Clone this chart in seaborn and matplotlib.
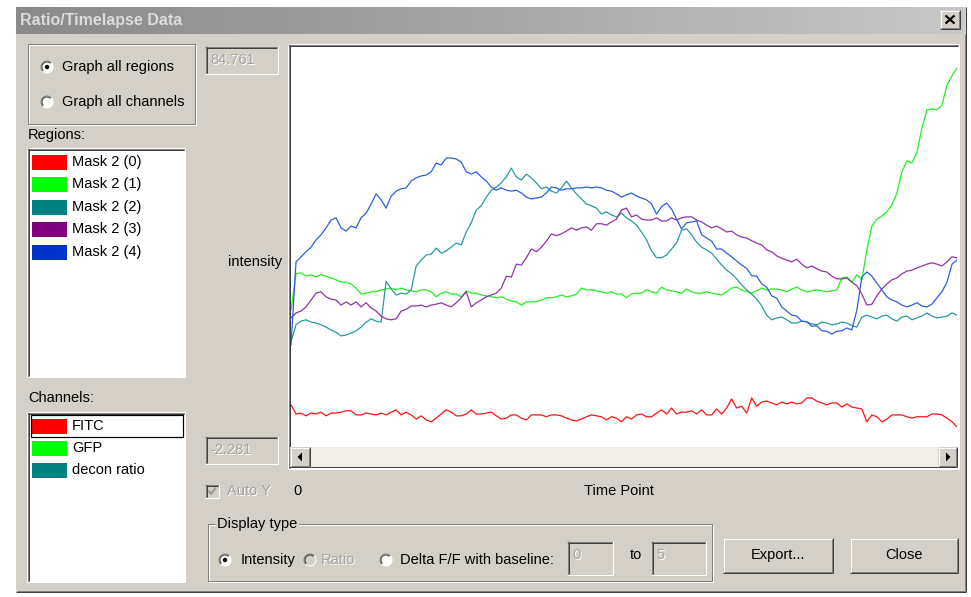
import matplotlib
matplotlib.use("Agg")
import matplotlib.pyplot as plt
from matplotlib.patches import Rectangle, Circle, Polygon, Arc
from matplotlib.colors import LinearSegmentedColormap
import numpy as np
import pandas as pd
import seaborn as sns

# ---------------------------------------------------------------- data
regions = ["Mask 2 (0)", "Mask 2 (1)", "Mask 2 (2)", "Mask 2 (3)", "Mask 2 (4)"]
region_swatch = ["#ff0000", "#00ff00", "#008080", "#800080", "#0033c8"]
region_line = ["#ff1414", "#22f022", "#2a9a9a", "#9432aa", "#2c5ee0"]

channels = ["FITC", "GFP", "decon ratio"]
channel_swatch = ["#ff0000", "#00ff00", "#008080"]

y_max_text = "84.761"
y_min_text = "-2.281"
y_limits = (-2.281, 84.761)

mask2_0 = [6.9, 4.9, 5.1, 4.5, 5.1, 4.9, 5.3, 4.5, 5.1, 5.1,
           5.3, 5.6, 5.6, 4.7, 4.7, 5.1, 4.9, 4.7, 5.1, 4.7,
           5.3, 5.8, 4.7, 5.3, 4.7, 3.8, 4.5, 3.6, 3.2, 4.0,
           4.9, 5.8, 5.3, 4.5, 4.5, 4.9, 5.8, 4.9, 4.9, 5.1,
           5.3, 4.5, 3.8, 4.0, 4.7, 4.7, 4.0, 3.6, 4.7, 4.7,
           4.7, 4.3, 4.7, 4.7, 4.5, 4.0, 3.6, 3.4, 3.8, 4.3,
           4.7, 4.5, 4.3, 3.6, 4.3, 4.0, 3.2, 4.3, 3.8, 4.7,
           4.9, 4.3, 4.3, 5.1, 5.8, 4.9, 6.2, 4.9, 5.3, 5.3,
           5.6, 4.9, 5.8, 4.7, 4.7, 6.0, 4.9, 6.2, 8.2, 6.2,
           6.6, 5.1, 8.4, 6.6, 7.5, 7.7, 7.3, 6.9, 7.5, 7.1,
           7.5, 7.1, 7.3, 8.4, 8.4, 7.7, 7.3, 6.9, 7.3, 7.3,
           6.4, 7.1, 6.4, 6.2, 6.0, 3.2, 4.7, 4.3, 3.2, 3.8,
           4.7, 4.7, 4.7, 4.3, 4.0, 4.3, 4.3, 4.3, 4.9, 4.9,
           4.7, 4.0, 3.2, 2.1]

mask2_1 = [27.5, 35.4, 35.6, 34.9, 35.2, 34.7, 35.2, 34.9, 34.5, 34.1,
           33.6, 33.6, 33.2, 32.3, 31.0, 31.2, 31.5, 31.5, 31.9, 32.1,
           32.3, 31.9, 32.3, 31.9, 31.7, 31.5, 31.9, 31.9, 31.5, 30.4,
           31.2, 31.5, 31.0, 31.0, 30.4, 31.7, 31.2, 31.2, 30.8, 30.6,
           30.4, 30.2, 30.4, 29.9, 29.5, 29.3, 28.6, 29.3, 29.3, 29.3,
           29.7, 30.2, 30.2, 30.4, 30.8, 30.4, 30.6, 31.0, 32.3, 31.9,
           31.9, 31.7, 31.5, 31.2, 31.5, 31.0, 31.0, 30.2, 31.0, 31.2,
           31.2, 31.9, 31.5, 31.2, 32.5, 31.9, 31.7, 31.5, 31.2, 32.1,
           31.5, 31.2, 31.2, 31.5, 31.2, 31.0, 30.8, 31.5, 32.3, 32.5,
           31.9, 31.5, 31.2, 31.7, 32.3, 31.9, 32.1, 32.1, 31.9, 31.5,
           32.1, 32.5, 31.9, 31.5, 31.7, 31.9, 31.7, 31.5, 31.7, 31.9,
           34.5, 34.7, 33.6, 35.2, 34.1, 40.6, 45.8, 47.3, 48.0, 48.9,
           50.4, 53.0, 57.6, 60.0, 59.5, 61.9, 67.1, 71.1, 71.3, 71.1,
           72.1, 76.5, 78.5, 80.2]

mask2_2 = [20.6, 24.3, 25.1, 25.4, 24.9, 24.7, 24.3, 23.8, 23.2, 22.7,
           21.9, 22.1, 22.5, 23.0, 23.8, 24.9, 25.6, 25.1, 24.9, 33.8,
           32.1, 30.8, 31.2, 31.0, 31.9, 37.1, 38.4, 39.5, 39.7, 41.0,
           39.9, 40.4, 41.2, 42.1, 41.7, 44.5, 46.5, 49.3, 50.2, 52.1,
           53.6, 54.3, 55.2, 56.5, 58.4, 56.5, 55.8, 57.1, 56.3, 55.2,
           53.9, 54.3, 53.4, 53.0, 54.1, 55.6, 54.1, 52.8, 51.7, 50.6,
           50.2, 49.7, 48.4, 48.9, 48.2, 47.8, 48.6, 47.6, 46.9, 46.0,
           44.5, 42.8, 40.4, 38.9, 38.9, 39.5, 40.8, 42.1, 44.9, 45.2,
           43.9, 42.3, 41.2, 40.6, 39.9, 38.6, 37.3, 36.2, 35.4, 34.3,
           33.0, 31.9, 31.0, 29.9, 28.4, 26.4, 25.4, 25.8, 26.0, 25.4,
           24.7, 24.7, 25.1, 24.9, 24.5, 24.3, 24.9, 24.7, 24.3, 24.5,
           24.9, 24.7, 24.1, 23.8, 26.0, 26.4, 26.0, 25.6, 26.2, 26.4,
           25.6, 25.1, 26.0, 26.2, 25.4, 25.8, 26.2, 26.9, 26.2, 25.8,
           26.0, 26.2, 26.9, 26.4]

mask2_3 = [25.8, 26.9, 27.3, 28.2, 29.7, 31.2, 31.5, 30.4, 29.9, 29.7,
           28.6, 29.3, 28.6, 29.3, 28.2, 29.1, 28.0, 27.3, 26.2, 25.6,
           25.4, 25.6, 27.3, 27.7, 28.4, 28.4, 28.6, 28.2, 28.6, 28.8,
           29.1, 28.6, 28.2, 29.1, 30.2, 31.5, 28.2, 29.1, 29.7, 30.4,
           30.8, 31.2, 32.3, 34.9, 34.7, 37.5, 37.3, 38.9, 40.8, 40.2,
           41.2, 42.5, 44.1, 43.7, 44.1, 44.7, 45.4, 44.9, 45.4, 45.6,
           44.9, 46.3, 46.3, 46.0, 46.7, 47.3, 49.3, 49.7, 47.8, 48.2,
           47.3, 47.1, 47.1, 47.6, 46.9, 46.9, 47.6, 47.1, 47.6, 47.8,
           47.8, 47.1, 46.7, 46.0, 45.4, 45.8, 45.2, 44.5, 44.7, 43.9,
           43.4, 43.2, 42.6, 42.1, 41.7, 40.6, 40.2, 39.3, 38.8, 38.4,
           38.0, 38.6, 37.5, 36.7, 37.1, 36.5, 36.0, 35.8, 34.9, 34.3,
           34.3, 34.5, 33.6, 32.8, 31.0, 28.6, 28.8, 30.6, 32.1, 33.2,
           34.1, 34.5, 35.4, 36.0, 36.2, 36.7, 37.1, 37.5, 37.8, 37.5,
           37.1, 38.0, 39.1, 38.9]

mask2_4 = [19.9, 38.0, 39.1, 40.2, 41.2, 42.8, 43.9, 45.4, 47.1, 47.6,
           45.4, 44.7, 45.8, 45.4, 47.6, 48.6, 50.6, 52.8, 51.5, 49.7,
           52.3, 53.4, 53.9, 54.1, 55.6, 56.3, 56.7, 56.9, 57.6, 59.5,
           59.1, 60.6, 60.6, 60.4, 59.7, 57.6, 57.1, 57.6, 56.5, 55.6,
           54.3, 53.6, 54.1, 53.6, 53.4, 53.6, 53.0, 52.1, 51.7, 51.9,
           52.1, 53.0, 54.3, 54.1, 53.6, 53.9, 53.9, 54.1, 54.1, 54.3,
           54.1, 54.3, 54.1, 53.6, 53.4, 52.8, 52.1, 52.6, 53.0, 52.3,
           51.9, 51.5, 50.6, 48.4, 50.0, 50.8, 49.5, 47.3, 45.2, 46.5,
           46.7, 46.9, 43.9, 43.2, 42.5, 40.8, 40.8, 39.9, 39.1, 38.2,
           37.3, 36.6, 35.0, 34.9, 33.2, 32.5, 30.6, 30.1, 28.2, 27.3,
           26.4, 26.2, 25.1, 25.0, 24.0, 24.1, 23.0, 22.9, 22.3, 22.9,
           23.0, 23.6, 23.2, 27.5, 34.7, 35.8, 34.9, 33.4, 31.9, 30.4,
           29.7, 29.3, 28.6, 28.2, 28.6, 29.1, 28.4, 28.2, 28.8, 30.2,
           31.5, 33.6, 37.5, 38.4]

series = [mask2_0, mask2_1, mask2_2, mask2_3, mask2_4]
time_points = np.arange(len(mask2_0))

frames = [pd.DataFrame({"time": time_points, "intensity": vals, "region": name})
          for name, vals in zip(regions, series)]
df = pd.concat(frames, ignore_index=True)

# ---------------------------------------------------------------- style
sns.set_style("white")
plt.rcParams["font.family"] = ["Liberation Sans", "DejaVu Sans"]

FACE = "#d4d0c8"
SHADOW = "#808080"
DARK = "#404040"
PX = 0.72          # one pixel expressed in points at 100 dpi
FS = 10.5

fig = plt.figure(figsize=(9.71, 5.97), dpi=100, facecolor="white")
ui = fig.add_axes([0, 0, 1, 1])
ui.set_xlim(0, 971)
ui.set_ylim(597, 0)
ui.axis("off")


def box(x0, y0, x1, y1, fc, z=1):
    ui.add_patch(Rectangle((x0, y0), x1 - x0, y1 - y0, facecolor=fc,
                           edgecolor="none", zorder=z))


def seg(xs, ys, c, z=3, w=1.0):
    ui.plot(xs, ys, color=c, lw=w * PX, solid_capstyle="butt", zorder=z)


def sunken(x0, y0, x1, y1, fc="white", z=2):
    box(x0, y0, x1, y1, fc, z)
    seg([x0, x1], [y0 + .5] * 2, SHADOW, z + .1)
    seg([x0 + .5] * 2, [y0, y1], SHADOW, z + .1)
    seg([x0 + 1, x1 - 1], [y0 + 1.5] * 2, DARK, z + .1)
    seg([x0 + 1.5] * 2, [y0 + 1, y1 - 1], DARK, z + .1)
    seg([x0, x1], [y1 - .5] * 2, "white", z + .1)
    seg([x1 - .5] * 2, [y0, y1], "white", z + .1)


def raised(x0, y0, x1, y1, z=2):
    box(x0, y0, x1, y1, FACE, z)
    seg([x0, x1], [y0 + .5] * 2, "white", z + .1)
    seg([x0 + .5] * 2, [y0, y1], "white", z + .1)
    seg([x0, x1], [y1 - .5] * 2, DARK, z + .1)
    seg([x1 - .5] * 2, [y0, y1], DARK, z + .1)
    seg([x0 + 1, x1 - 1], [y1 - 1.5] * 2, SHADOW, z + .1)
    seg([x1 - 1.5] * 2, [y0 + 1, y1 - 1], SHADOW, z + .1)


def etched(x0, y0, x1, y1, z=2):
    ui.add_patch(Rectangle((x0 + 1.5, y0 + 1.5), x1 - x0 - 1, y1 - y0 - 1,
                           fill=False, edgecolor="white", lw=PX, zorder=z))
    ui.add_patch(Rectangle((x0 + .5, y0 + .5), x1 - x0 - 1, y1 - y0 - 1,
                           fill=False, edgecolor=SHADOW, lw=PX, zorder=z))


def radio(cx, cy, on, enabled=True):
    ui.add_patch(Circle((cx, cy), 6, facecolor="white" if enabled else FACE,
                        edgecolor="none", zorder=4))
    ui.add_patch(Arc((cx, cy), 12, 12, theta1=135, theta2=315, color=SHADOW, lw=PX, zorder=4.1))
    ui.add_patch(Arc((cx, cy), 10, 10, theta1=135, theta2=315, color=DARK, lw=PX, zorder=4.1))
    ui.add_patch(Arc((cx, cy), 12, 12, theta1=315, theta2=495, color="white", lw=PX, zorder=4.1))
    if on:
        ui.add_patch(Circle((cx, cy), 2.2, facecolor="black", edgecolor="none", zorder=4.2))


def label(x, y, s, ha="left", size=FS, color="black", disabled=False,
          weight="normal", z=6, **kw):
    if disabled:
        ui.text(x + 1, y + 1, s, ha=ha, va="center", fontsize=size,
                color="white", zorder=z)
        color = "#a4a4a4"
    ui.text(x, y, s, ha=ha, va="center", fontsize=size, color=color,
            fontweight=weight, zorder=z, **kw)


# ---------------------------------------------------------------- dialog frame
box(16, 7, 966, 592, FACE, z=0)
seg([965.5] * 2, [7, 592], DARK, 0.5)
seg([964.5] * 2, [34, 591], SHADOW, 0.5)
seg([16, 966], [591.5] * 2, DARK, 0.5)
seg([17, 965], [590.5] * 2, SHADOW, 0.5)

title_cmap = LinearSegmentedColormap.from_list("title", ["#8a8a8a", "#a6a6a6", "#c8c8c8"])
ui.imshow(np.linspace(0, 1, 256)[None, :], cmap=title_cmap, aspect="auto",
          extent=(16, 964, 34, 7), zorder=0.6)
label(20, 21, "Ratio/Timelapse Data", size=11.5, color="#dcdcdc", weight="bold")
raised(940, 10, 960, 29, z=2)
seg([945.5, 954.5], [15.5, 23.5], "black", 3, 2.2)
seg([945.5, 954.5], [23.5, 15.5], "black", 3, 2.2)

# ---------------------------------------------------------------- left panel
etched(27, 43, 195, 124)
radio(47, 67, True)
label(62, 67, "Graph all regions")
radio(47, 102, False)
label(62, 102, "Graph all channels")

label(28, 135, "Regions:")
sunken(27, 148, 185, 377)
region_rows = [162, 184, 207, 229, 252]
for name, col, cy in zip(regions, region_swatch, region_rows):
    box(32, cy - 7, 67, cy + 8, col, z=3)
    label(72, cy, name)

label(28, 398, "Channels:")
sunken(27, 412, 185, 582)
channel_rows = [426, 448, 470]
for name, col, cy in zip(channels, channel_swatch, channel_rows):
    box(32, cy - 7, 67, cy + 8, col, z=3)
    label(72, cy, name)
ui.add_patch(Rectangle((30.5, 414.5), 152, 22, fill=False, edgecolor="black",
                       lw=PX * 1.2, zorder=5))

# ---------------------------------------------------------------- y range boxes
sunken(205, 46, 278, 74, fc=FACE)
label(210, 60, y_max_text, disabled=True)
label(255, 262, "intensity", ha="center")
sunken(205, 436, 278, 464, fc=FACE)
label(210, 450, y_min_text, disabled=True)

# ---------------------------------------------------------------- plot frame and scrollbar
sunken(288, 44, 959, 469)
box(310, 447, 938, 467, "#efeee9", z=3)
seg([310, 938], [466.5] * 2, DARK, 3.2)
raised(290, 447, 310, 467, z=3.3)
raised(938, 447, 957, 467, z=3.3)
ui.add_patch(Polygon([(297.5, 457), (302, 452.5), (302, 461.5)], closed=True,
                     facecolor="black", edgecolor="none", zorder=3.6))
ui.add_patch(Polygon([(950.5, 457), (946, 452.5), (946, 461.5)], closed=True,
                     facecolor="black", edgecolor="none", zorder=3.6))

# ---------------------------------------------------------------- bottom controls
sunken(205, 484, 219, 498, fc=FACE)
seg([208.5, 211, 216], [490.5, 494, 487.5], "#9a9a9a", 3.5, 2.0)
label(227, 491, "Auto Y", disabled=True)
label(293, 491, "0")
label(619, 491, "Time Point", ha="center")

etched(207, 523, 712, 581)
ui.text(217, 524, "Display type", ha="left", va="center", fontsize=FS,
        color="black", zorder=6,
        bbox=dict(facecolor=FACE, edgecolor="none", pad=1.0))
radio(225, 560, True)
label(241, 560, "Intensity")
radio(310, 560, False, enabled=False)
label(321, 560, "Ratio", disabled=True)
radio(386, 560, False)
label(400, 560, "Delta F/F with baseline:")
sunken(567, 541, 613, 575, fc=FACE)
label(572, 555, "0", disabled=True)
label(630, 555, "to")
sunken(651, 541, 706, 575, fc=FACE)
label(656, 555, "5", disabled=True)

raised(723, 538, 833, 573)
label(778, 555, "Export...", ha="center")
raised(850, 538, 958, 573)
label(904, 555, "Close", ha="center")

# ---------------------------------------------------------------- traces
ax = fig.add_axes([291 / 971, 1 - 447 / 597, 666 / 971, 400 / 597])
ax.set_zorder(5)
ax.patch.set_alpha(0)
sns.lineplot(data=df, x="time", y="intensity", hue="region",
             hue_order=regions, palette=dict(zip(regions, region_line)),
             estimator=None, errorbar=None, sort=False, legend=False,
             linewidth=1.25 * PX, ax=ax)
ax.set_xlim(time_points[0], time_points[-1])
ax.set_ylim(*y_limits)
ax.axis("off")

ui.set_xlim(0, 971)
ui.set_ylim(597, 0)
fig.savefig("out.png", dpi=100, facecolor="white")
